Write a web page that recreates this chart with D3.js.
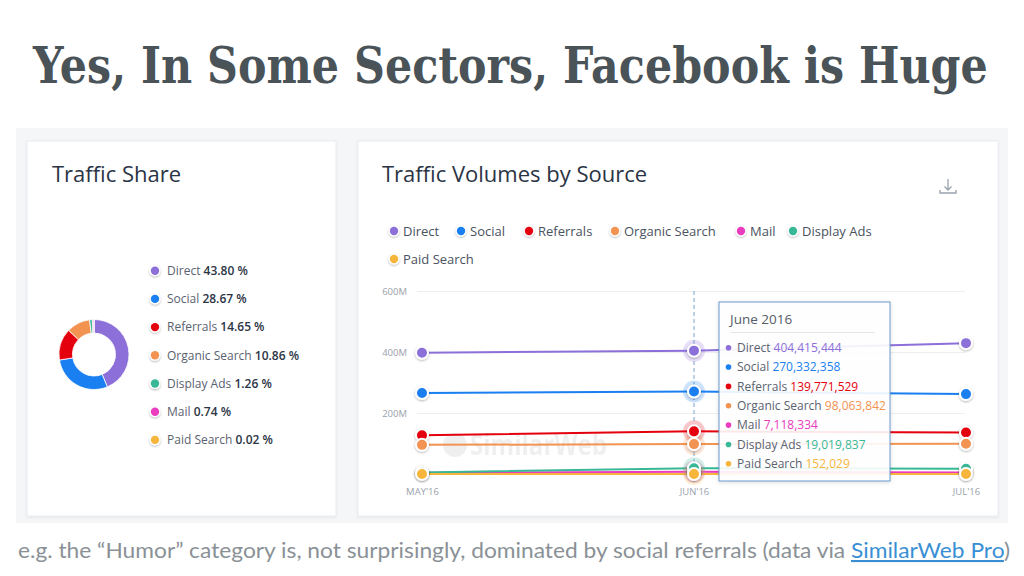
<!DOCTYPE html>
<html>
<head>
<meta charset="utf-8">
<script src="https://cdn.jsdelivr.net/npm/d3@7"></script>
<style>
  body { margin: 0; background: #fff; }
  svg { display: block; }
</style>
</head>
<body>
<svg width="1024" height="576"></svg>
<script>
// ---- data ----
var shareNames = ["Direct", "Social", "Referrals", "Organic Search", "Display Ads", "Mail", "Paid Search"];
var shareValues = [43.80, 28.67, 14.65, 10.86, 1.26, 0.74, 0.02];

var months = ["MAY'16", "JUN'16", "JUL'16"];
var sources = ["Direct", "Social", "Referrals", "Organic Search", "Mail", "Display Ads", "Paid Search"];
var direct = [397500000, 404415444, 429000000];
var social = [265500000, 270332358, 262000000];
var referrals = [127000000, 139771529, 136000000];
var organic = [95500000, 98063842, 99000000];
var mail = [4000000, 7118334, 5000000];
var displayAds = [5000000, 19019837, 17000000];
var paidSearch = [150000, 152029, 160000];
var yTicks = [200000000, 400000000, 600000000];

var colors = {
  "Direct": "#8c6fd9",
  "Social": "#1a7ff0",
  "Referrals": "#e5000e",
  "Organic Search": "#f39352",
  "Mail": "#ea3cbf",
  "Display Ads": "#38b896",
  "Paid Search": "#f8b53b"
};

var series = [direct, social, referrals, organic, mail, displayAds, paidSearch].map(function(v, i) {
  return {name: sources[i], values: v};
});

var svg = d3.select("svg");
var defs = svg.append("defs");
var sh = defs.append("filter").attr("id", "shadow").attr("x", "-50%").attr("y", "-50%").attr("width", "200%").attr("height", "200%");
sh.append("feDropShadow").attr("dx", 0).attr("dy", 1).attr("stdDeviation", 1).attr("flood-color", "#000").attr("flood-opacity", 0.3);
var boxSh = defs.append("filter").attr("id", "boxshadow").attr("x", "-10%").attr("y", "-10%").attr("width", "120%").attr("height", "120%");
boxSh.append("feDropShadow").attr("dx", 0).attr("dy", 1).attr("stdDeviation", 2).attr("flood-color", "#000").attr("flood-opacity", 0.15);
var cardSh = defs.append("filter").attr("id", "cardshadow").attr("x", "-5%").attr("y", "-5%").attr("width", "110%").attr("height", "110%");
cardSh.append("feDropShadow").attr("dx", 0).attr("dy", 1).attr("stdDeviation", 1.2).attr("flood-color", "#000").attr("flood-opacity", 0.08);

// ---- title ----
// size the slab title so its natural width spans the page, then stretch it up to the cap height
var title = svg.append("text")
  .attr("x", 0).attr("y", 0)
  .style("font-family", "'DejaVu Serif', serif")
  .style("font-weight", "bold")
  .style("font-size", "46px")
  .attr("fill", "#4a5358")
  .text("Yes, In Some Sectors, Facebook is Huge");
var natural = title.node().getComputedTextLength();
var titleSize = 46 * 955 / natural;
title.style("font-size", titleSize + "px");
var ky = 36.5 / (0.729 * titleSize);
title.attr("transform", "translate(33,83) scale(1," + ky + ")");

// ---- screenshot panel ----
svg.append("rect").attr("x", 16).attr("y", 128).attr("width", 992).attr("height", 395).attr("fill", "#f5f6f7");
svg.append("rect").attr("x", 27).attr("y", 141).attr("width", 309).attr("height", 375)
  .attr("fill", "#fff").attr("stroke", "#eaecef").attr("filter", "url(#cardshadow)");
svg.append("rect").attr("x", 358).attr("y", 141).attr("width", 640).attr("height", 375)
  .attr("fill", "#fff").attr("stroke", "#eaecef").attr("filter", "url(#cardshadow)");

var uiFont = "'Open Sans', sans-serif";

// ---- left card: traffic share ----
svg.append("text").attr("x", 52).attr("y", 182)
  .style("font-family", uiFont).style("font-size", "22px").attr("fill", "#2b3445")
  .text("Traffic Share");

var pie = d3.pie().sort(null).value(function(d) { return d; });
var arc = d3.arc().innerRadius(21.5).outerRadius(35);
svg.append("g").attr("transform", "translate(94,354.5)")
  .selectAll("path").data(pie(shareValues)).enter().append("path")
  .attr("d", arc)
  .attr("fill", function(d, i) { return colors[shareNames[i]]; })
  .attr("stroke", "#fff").attr("stroke-width", 0.8);

var shareLeg = svg.append("g").selectAll("g").data(shareNames).enter().append("g")
  .attr("transform", function(d, i) { return "translate(155," + (270.7 + i * 28.2) + ")"; });
shareLeg.append("circle").attr("r", 5.5).attr("fill", "#fff").attr("filter", "url(#shadow)");
shareLeg.append("circle").attr("r", 4.2).attr("fill", function(d) { return colors[d]; });
var shareText = shareLeg.append("text").attr("x", 12).attr("y", 4.3)
  .style("font-family", uiFont).style("font-size", "12px");
shareText.append("tspan").attr("fill", "#5a6270").text(function(d) { return d + " "; });
shareText.append("tspan").attr("fill", "#2b3445").style("font-weight", 600)
  .text(function(d, i) { return shareValues[i].toFixed(2) + " %"; });

// ---- right card: volumes ----
svg.append("text").attr("x", 382).attr("y", 182)
  .style("font-family", uiFont).style("font-size", "22px").attr("fill", "#2b3445")
  .text("Traffic Volumes by Source");

// download icon
var dl = svg.append("g").attr("stroke", "#9aa3ad").attr("stroke-width", 1.3).attr("fill", "none");
dl.append("path").attr("d", "M948,179 V190 M944.5,186.5 L948,190 L951.5,186.5");
dl.append("path").attr("d", "M940,190 V193 H956 V190");

// legend
var legX = [394, 461, 529, 615, 741, 793, 394];
var legY = [231, 231, 231, 231, 231, 231, 259];
var volLeg = svg.append("g").selectAll("g").data(sources).enter().append("g")
  .attr("transform", function(d, i) { return "translate(" + legX[i] + "," + legY[i] + ")"; });
volLeg.append("circle").attr("r", 5.5).attr("fill", "#fff").attr("filter", "url(#shadow)");
volLeg.append("circle").attr("r", 4.2).attr("fill", function(d) { return colors[d]; });
volLeg.append("text").attr("x", 9).attr("y", 4.6)
  .style("font-family", uiFont).style("font-size", "13px").attr("fill", "#4a5260")
  .text(function(d) { return d; });

var x = d3.scalePoint().domain(months).range([422, 966]);
var y = d3.scaleLinear().domain([0, 600000000]).range([474, 291]);

var yAxis = svg.append("g").attr("transform", "translate(422,0)")
  .call(d3.axisLeft(y).tickValues(yTicks).tickSize(-548)
    .tickFormat(function(d) { return (d / 1e6) + "M"; }));
yAxis.select(".domain").remove();
yAxis.selectAll(".tick line").attr("stroke", "#eceef1").attr("transform", "translate(-5,0)");
yAxis.selectAll(".tick text").attr("x", -15).attr("fill", "#9aa2ab")
  .style("font-family", uiFont).style("font-size", "9.5px");

var xAxis = svg.append("g").attr("transform", "translate(0,483)")
  .call(d3.axisBottom(x).tickSize(0));
xAxis.select(".domain").remove();
xAxis.selectAll(".tick text").attr("fill", "#9aa2ab").attr("dy", "0.9em")
  .style("font-family", uiFont).style("font-size", "9.5px");

// watermark
var wm = svg.append("g").attr("opacity", 0.08);
wm.append("circle").attr("cx", 455).attr("cy", 445).attr("r", 12).attr("fill", "#444");
wm.append("text").attr("x", 470).attr("y", 455)
  .attr("textLength", 137).attr("lengthAdjust", "spacingAndGlyphs")
  .style("font-family", uiFont).style("font-weight", "bold").style("font-size", "28px")
  .attr("fill", "#444").text("SimilarWeb");

// hover line
svg.append("line").attr("x1", x("JUN'16")).attr("x2", x("JUN'16")).attr("y1", 291).attr("y2", 482)
  .attr("stroke", "#8fb4d8").attr("stroke-width", 1.2).attr("stroke-dasharray", "4,3");

var line = d3.line().x(function(d, i) { return x(months[i]); }).y(function(d) { return y(d); });

svg.append("g").selectAll("path").data(series).enter().append("path")
  .attr("d", function(s) { return line(s.values); })
  .attr("fill", "none").attr("stroke", function(s) { return colors[s.name]; }).attr("stroke-width", 2);

// halos at hovered month
svg.append("g").selectAll("circle").data(series).enter().append("circle")
  .attr("cx", x("JUN'16")).attr("cy", function(s) { return y(s.values[1]); })
  .attr("r", 11).attr("fill", function(s) { return colors[s.name]; }).attr("opacity", 0.22);

var markers = svg.append("g").selectAll("g").data(series).enter().append("g");
markers.selectAll("circle").data(function(s) {
    return s.values.map(function(v, i) { return {name: s.name, v: v, i: i}; });
  }).enter().append("circle")
  .attr("cx", function(d) { return x(months[d.i]); })
  .attr("cy", function(d) { return y(d.v); })
  .attr("r", 6)
  .attr("fill", function(d) { return colors[d.name]; })
  .attr("stroke", "#fff").attr("stroke-width", 2)
  .attr("filter", "url(#shadow)");

// tooltip
var tip = svg.append("g").attr("transform", "translate(719,302)");
tip.append("rect").attr("width", 171).attr("height", 179).attr("fill", "#fff").attr("fill-opacity", 0.9)
  .attr("stroke", "#6b98cc").attr("stroke-width", 1).attr("filter", "url(#boxshadow)");
tip.append("text").attr("x", 11).attr("y", 22)
  .style("font-family", uiFont).style("font-size", "13.5px").attr("fill", "#555c66")
  .text("June 2016");
tip.append("line").attr("x1", 11).attr("x2", 156).attr("y1", 30.5).attr("y2", 30.5).attr("stroke", "#e3e5e8");
var rows = tip.selectAll("g.row").data(series).enter().append("g").attr("class", "row")
  .attr("transform", function(d, i) { return "translate(0," + (45.7 + i * 19.35) + ")"; });
rows.append("circle").attr("cx", 9.5).attr("r", 2.8).attr("fill", function(d) { return colors[d.name]; });
var rowText = rows.append("text").attr("x", 18).attr("y", 4.3)
  .style("font-family", uiFont).style("font-size", "12px");
rowText.append("tspan").attr("fill", "#5a6270").text(function(d) { return d.name + " "; });
rowText.append("tspan").attr("fill", function(d) { return colors[d.name]; })
  .text(function(d) { return d3.format(",")(d.values[1]); });

// ---- caption ----
var cap = svg.append("text").attr("x", 18).attr("y", 558)
  .attr("textLength", 992).attr("lengthAdjust", "spacingAndGlyphs")
  .style("font-family", "Lato, sans-serif").style("font-size", "21px").attr("fill", "#8a9196");
cap.append("tspan").text("e.g. the \u201cHumor\u201d category is, not surprisingly, dominated by social referrals (data via ");
cap.append("tspan").attr("fill", "#3a8fd4").style("text-decoration", "underline").text("SimilarWeb Pro");
cap.append("tspan").text(")");
</script>
</body>
</html>
